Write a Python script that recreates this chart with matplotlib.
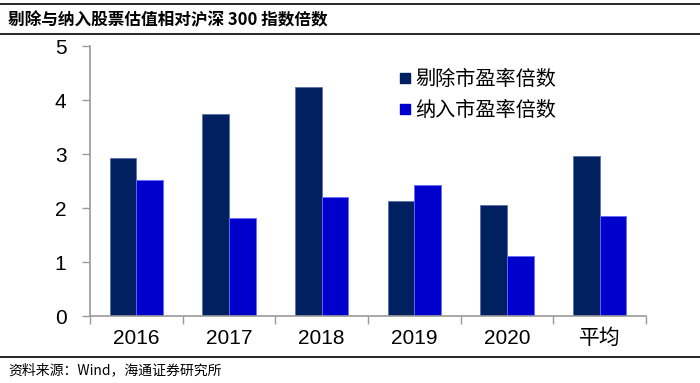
import numpy as np
import matplotlib
matplotlib.use("Agg")
import matplotlib.pyplot as plt
from matplotlib.lines import Line2D

plt.rcParams['font.family'] = ['Liberation Sans', 'Noto Sans CJK SC', 'DejaVu Sans']

categories = ['2016', '2017', '2018', '2019', '2020', '平均']
excl_pe = [2.92, 3.75, 4.25, 2.13, 2.05, 2.96]   # 剔除市盈率倍数
incl_pe = [2.52, 1.81, 2.21, 2.42, 1.12, 1.86]   # 纳入市盈率倍数
series_names = ['剔除市盈率倍数', '纳入市盈率倍数']
y_ticks = [0, 1, 2, 3, 4, 5]

DARK = '#002060'
BLUE = '#0000CC'
AXIS_GRAY = '#9a9a9a'

fig = plt.figure(figsize=(7.0, 3.83), dpi=100)
W, H = 700, 383

# axes placed in pixel coordinates
left, right, top, bottom = 90, 646, 46, 316
ax = fig.add_axes([left / W, 1 - bottom / H, (right - left) / W, (bottom - top) / H])

x = np.arange(len(categories))
bw = 0.286
ax.bar(x - bw / 2, excl_pe, bw, color=DARK, edgecolor='#5a6fb0', linewidth=0.6, label=series_names[0])
ax.bar(x + bw / 2, incl_pe, bw, color=BLUE, edgecolor='#6b6bff', linewidth=0.6, label=series_names[1])

ax.set_xlim(-0.5, len(categories) - 0.5)
ax.set_ylim(0, 5)
ax.set_yticks(y_ticks)
ax.set_yticklabels([str(t) for t in y_ticks], fontsize=15)

# category labels between boundary ticks
ax.set_xticks(np.arange(len(categories) + 1) - 0.5)
ax.set_xticklabels([])
ax.set_xticks(x, minor=True)
ax.set_xticklabels(categories, minor=True, fontsize=15)
ax.tick_params(axis='x', which='minor', length=0, pad=9)
ax.tick_params(axis='x', which='major', length=6, width=1, color=AXIS_GRAY, direction='out')
ax.tick_params(axis='y', length=6, width=1, color=AXIS_GRAY, direction='out', pad=11)

for s in ['top', 'right']:
    ax.spines[s].set_visible(False)
for s in ['left', 'bottom']:
    ax.spines[s].set_color(AXIS_GRAY)
    ax.spines[s].set_linewidth(1.2)

handles = [Line2D([], [], marker='s', linestyle='none', markersize=6.5, color=DARK),
           Line2D([], [], marker='s', linestyle='none', markersize=6.5, color=BLUE)]
fig.legend(handles, series_names, loc='upper left', bbox_to_anchor=(392 / W, 1 - 61 / H),
           frameon=False, prop={'family': ['Noto Sans CJK SC'], 'size': 14.5},
           handlelength=0.5, handletextpad=0.25, labelspacing=0.5, borderaxespad=0)

# title bar and footer
fig.add_artist(Line2D([0, 1], [1 - 4 / H, 1 - 4 / H], color='black', linewidth=1.2))
fig.add_artist(Line2D([0, 1], [1 - 34 / H, 1 - 34 / H], color='black', linewidth=1.2))
fig.text(8 / W, 1 - 20 / H, '剔除与纳入股票估值相对沪深 300 指数倍数', fontsize=12,
         fontweight='bold', va='center', ha='left', family=['Noto Sans CJK SC', 'DejaVu Sans'])
fig.add_artist(Line2D([0, 1], [1 - 357 / H, 1 - 357 / H], color='black', linewidth=1.2))
fig.text(8 / W, 1 - 370 / H, '资料来源：Wind，海通证券研究所', fontsize=10,
         va='center', ha='left', family=['Noto Sans CJK SC', 'DejaVu Sans'])

fig.savefig('out.png', dpi=100)
